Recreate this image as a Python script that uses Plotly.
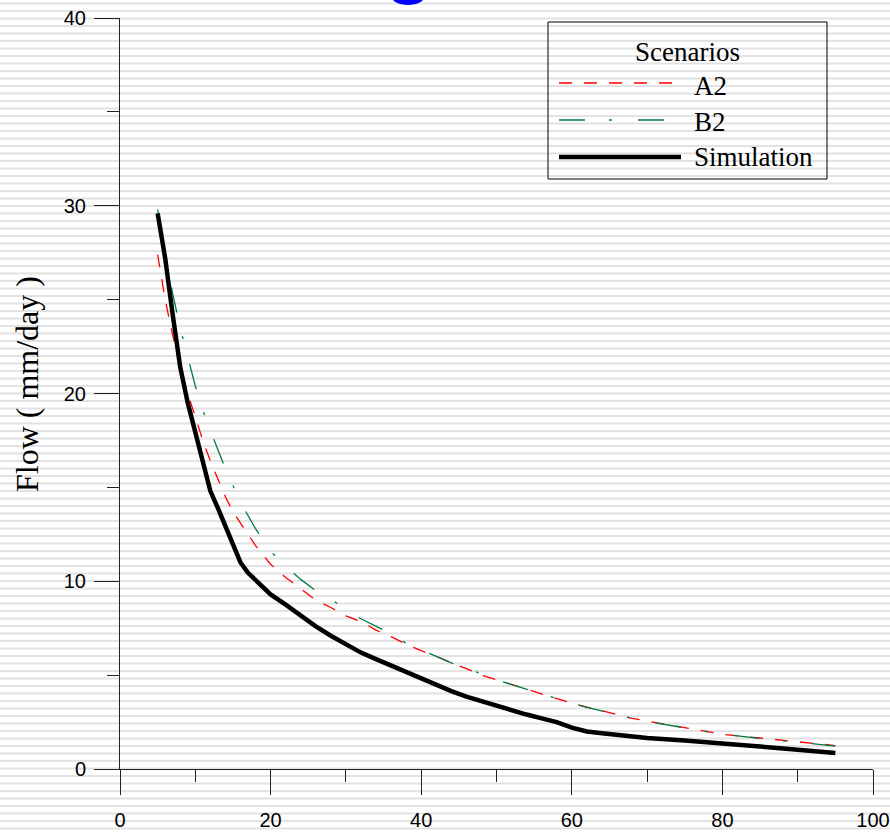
import plotly.graph_objects as go

# ---- data ----
sim_x = [5, 6, 7, 8, 9, 10, 11, 12, 13, 14, 15, 16, 17, 18, 20, 22, 24, 26, 28, 30,
         32, 34, 36, 38, 40, 42, 44, 46, 48, 50, 52, 54, 56, 58, 60, 62, 64, 66, 68, 70,
         75, 80, 85, 90, 95]
sim_y = [29.6, 27.2, 24.2, 21.4, 19.5, 17.9, 16.3, 14.8, 13.9, 12.9, 11.9, 11.0, 10.45, 10.05, 9.3, 8.75, 8.15, 7.6, 7.1, 6.65,
         6.2, 5.85, 5.5, 5.15, 4.8, 4.45, 4.15, 3.85, 3.6, 3.35, 3.1, 2.9, 2.7, 2.5, 2.2, 2.0, 1.9, 1.8, 1.72, 1.65,
         1.52, 1.38, 1.2, 1.02, 0.85]

a2_x = sim_x
a2_y = [27.4, 25.0, 23.1, 21.4, 20.0, 18.7, 17.5, 16.4, 15.4, 14.5, 13.7, 13.1, 12.5, 11.9, 10.9, 10.2, 9.6, 9.0, 8.6, 8.15,
        7.85, 7.4, 7.05, 6.65, 6.3, 6.0, 5.65, 5.35, 5.0, 4.75, 4.5, 4.25, 4.0, 3.75, 3.5, 3.3, 3.1, 2.9, 2.7, 2.55,
        2.2, 1.85, 1.65, 1.45, 1.25]

b2_x = sim_x
b2_y = [29.8, 27.5, 25.3, 23.5, 22.0, 20.4, 19.1, 18.0, 17.0, 16.0, 15.1, 14.2, 13.5, 12.8, 11.6, 10.8, 10.1, 9.5, 9.05, 8.5,
        8.0, 7.6, 7.2, 6.7, 6.35, 6.0, 5.65, 5.4, 5.05, 4.75, 4.5, 4.22, 3.98, 3.73, 3.5, 3.28, 3.08, 2.88, 2.7, 2.53,
        2.18, 1.85, 1.63, 1.43, 1.22]

series_names = ["A2", "B2", "Simulation"]
legend_title = "Scenarios"
y_title = "Flow ( mm/day )"
x_ticks = [0, 20, 40, 60, 80, 100]
y_ticks = [0, 10, 20, 30, 40]

# ---- styles ----
styles = [dict(color="#ff0000", width=1.3, dash="13px,12px"),
          dict(color="#007a40", width=1.3, dash="26px,24px,3px,26px"),
          dict(color="black", width=4.5)]
SERIF = "Liberation Serif, Times New Roman"

# ---- figure geometry ----
W, H = 890, 834
ML, MR, MT, MB = 120, 17, 18, 65
PW, PH = W - ML - MR, H - MT - MB


def px_x(p):
    return (p - ML) / PW


def px_y(p):
    return (H - MB - p) / PH


fig = go.Figure()
for name, xs, ys, st in zip(series_names, [a2_x, b2_x, sim_x], [a2_y, b2_y, sim_y], styles):
    fig.add_trace(go.Scatter(x=xs, y=ys, mode="lines", name=name, line=st, showlegend=False))

# striped background (decoration)
path = []
y = 3.5
while y < H + 4:
    path.append(f"M{px_x(0):.5f},{px_y(y):.5f}H{px_x(W):.5f}")
    y += 7.5
shapes = [dict(type="path", xref="paper", yref="paper", path="".join(path),
               line=dict(color="#e2e2e2", width=2.2), layer="below")]
# partial blue mark at top edge
shapes.append(dict(type="circle", xref="paper", yref="paper",
                   x0=px_x(391), x1=px_x(425), y0=px_y(5), y1=px_y(-14),
                   fillcolor="#0000ff", line=dict(width=0), layer="above"))

# ---- legend box (drawn) ----
LX0, LX1, LY0, LY1 = 548, 827, 22, 179
shapes.append(dict(type="rect", xref="paper", yref="paper",
                   x0=px_x(LX0), x1=px_x(LX1), y0=px_y(LY1), y1=px_y(LY0),
                   line=dict(color="black", width=1), fillcolor="rgba(0,0,0,0)"))
annotations = [dict(text=legend_title, xref="paper", yref="paper", x=px_x(687), y=px_y(52),
                    xanchor="center", yanchor="middle", showarrow=False,
                    font=dict(family=SERIF, size=27, color="black"))]
item_line_y = [83, 120, 157]
item_text_y = [86, 122, 157]
for name, st, ly, ty in zip(series_names, styles, item_line_y, item_text_y):
    shapes.append(dict(type="line", xref="paper", yref="paper",
                       x0=px_x(559), x1=px_x(681), y0=px_y(ly), y1=px_y(ly), line=st))
    annotations.append(dict(text=name, xref="paper", yref="paper", x=px_x(692), y=px_y(ty),
                            xanchor="left", yanchor="middle", showarrow=False,
                            font=dict(family=SERIF, size=27, color="black")))

# y-axis title
annotations.append(dict(text=y_title, xref="paper", yref="paper", x=px_x(27), y=px_y(384),
                        xanchor="center", yanchor="middle", textangle=-90, showarrow=False,
                        font=dict(family=SERIF, size=32, color="black")))

axis_common = dict(showgrid=False, zeroline=False, showline=True, linecolor="#222",
                   linewidth=1, ticks="outside", ticklen=25, tickwidth=1, tickcolor="#222",
                   tickfont=dict(family="Liberation Sans, Arial", size=20, color="black"))

fig.update_layout(
    width=W, height=H,
    margin=dict(l=ML, r=MR, t=MT, b=MB, autoexpand=False),
    paper_bgcolor="white", plot_bgcolor="rgba(0,0,0,0)",
    shapes=shapes, annotations=annotations,
    showlegend=False,
    xaxis=dict(range=[0, 100], tickvals=x_ticks, ticktext=[str(v) for v in x_ticks],
               minor=dict(dtick=10, tick0=0, ticks="outside", ticklen=12, tickcolor="#222"),
               ticklabelstandoff=8, **axis_common),
    yaxis=dict(range=[0, 40], tickvals=y_ticks, ticktext=[str(v) for v in y_ticks],
               minor=dict(dtick=5, tick0=0, ticks="outside", ticklen=12, tickcolor="#222"),
               ticklabelstandoff=4, **axis_common),
)

fig.write_html("out.html")
